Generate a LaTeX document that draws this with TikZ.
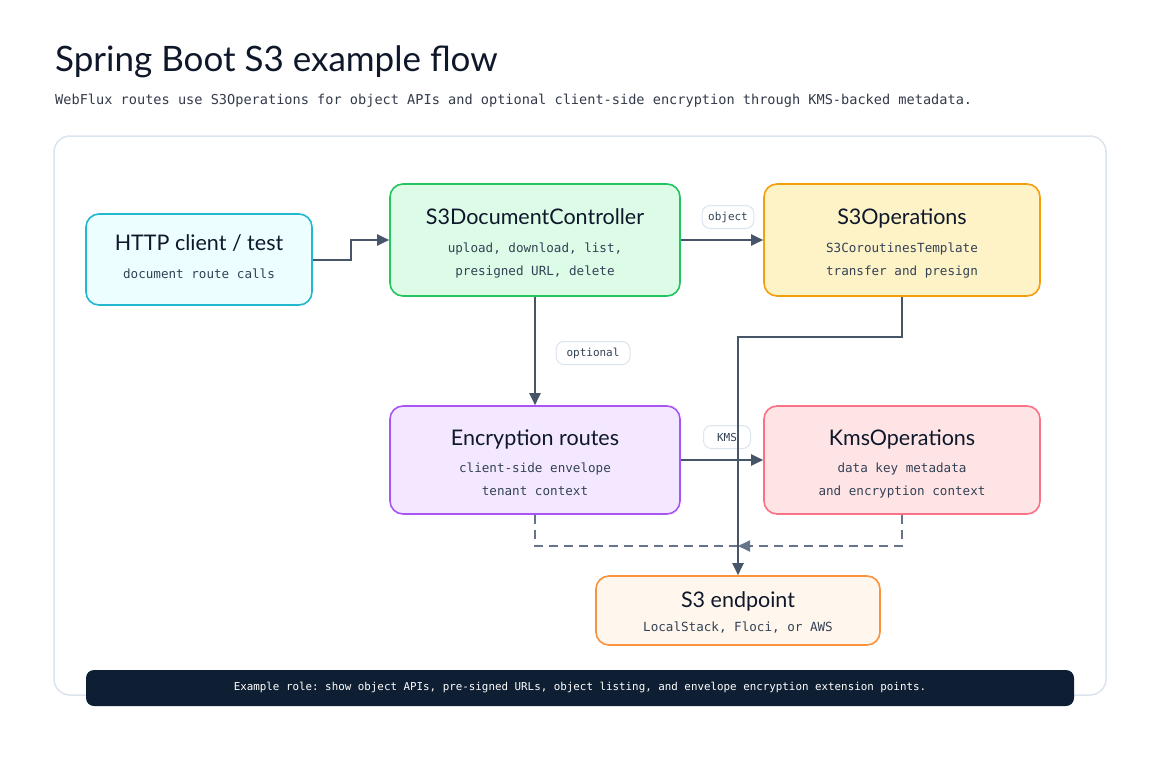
\documentclass[tikz,border=0pt]{standalone}
\usepackage{fontspec}
\setmainfont{Lato}
\setmonofont{DejaVu Sans Mono}
\usetikzlibrary{arrows.meta,calc}
\definecolor{ink}{HTML}{0F172A}
\definecolor{sub}{HTML}{334155}
\definecolor{edge}{HTML}{475569}
\definecolor{dash}{HTML}{64748B}
\definecolor{panel}{HTML}{DCE4EE}
\definecolor{navy}{HTML}{0F1F33}
\definecolor{cyanD}{HTML}{22B8CF}\definecolor{cyanF}{HTML}{ECFEFF}
\definecolor{greenD}{HTML}{22C55E}\definecolor{greenF}{HTML}{DCFCE7}
\definecolor{amberD}{HTML}{F59E0B}\definecolor{amberF}{HTML}{FEF3C7}
\definecolor{purpD}{HTML}{A855F7}\definecolor{purpF}{HTML}{F3E8FF}
\definecolor{roseD}{HTML}{FB7185}\definecolor{roseF}{HTML}{FFE4E6}
\definecolor{orD}{HTML}{FB923C}\definecolor{orF}{HTML}{FFF7ED}
\tikzset{
  box/.style={draw, rounded corners=13pt, line width=1.6pt, inner sep=0pt},
  ttl/.style={text=ink, font=\fontsize{21.5}{25}\selectfont, anchor=base, inner sep=0pt},
  mono/.style={text=sub, font=\ttfamily\fontsize{12.6}{15}\selectfont, anchor=base, inner sep=0pt},
  pill/.style={draw=panel, fill=white, rounded corners=8pt, line width=1pt, text=sub, font=\ttfamily\fontsize{11}{13}\selectfont, minimum height=23pt, inner xsep=6pt, inner ysep=0pt},
  conn/.style={draw=edge, line width=2pt, -{Triangle[length=12pt,width=11pt]}},
  dconn/.style={draw=dash, line width=1.8pt, dash pattern=on 9pt off 6pt},
}
\begin{document}
\begin{tikzpicture}[x=1pt,y=-1pt]
\useasboundingbox (0,0) rectangle (1160,760);
\fill[white] (0,0) rectangle (1160,760);
% title
\node[text=ink, font=\fontsize{35}{40}\selectfont, anchor=base west, inner sep=0] (title) at (55,72) {Spring Boot S3 example flow};
\node[text=ink!85!white, font=\ttfamily\fontsize{13.6}{17}\selectfont, anchor=base west, inner sep=0] (subtitle) at (55,104) {WebFlux routes use S3Operations for object APIs and optional client-side encryption through KMS-backed metadata.};
% panel
\draw[panel, line width=1.5pt, fill=white, rounded corners=16pt] (54,136) rectangle (1106,695);
% boxes
\node[box, draw=cyanD, fill=cyanF, minimum width=226pt, minimum height=91pt] (http) at (199,259.5) {};
\node[ttl] (httpT) at (199,250) {HTTP client / test};
\node[mono] (httpS) at (199,278) {document route calls};

\node[box, draw=greenD, fill=greenF, minimum width=290pt, minimum height=112pt] (ctrl) at (535,240) {};
\node[ttl] (ctrlT) at (535,224) {S3DocumentController};
\node[mono] (ctrlS1) at (535,252) {upload, download, list,};
\node[mono] (ctrlS2) at (535,275) {presigned URL, delete};

\node[box, draw=amberD, fill=amberF, minimum width=276pt, minimum height=112pt] (ops) at (902,240) {};
\node[ttl] (opsT) at (902,224) {S3Operations};
\node[mono] (opsS1) at (902,252) {S3CoroutinesTemplate};
\node[mono] (opsS2) at (902,275) {transfer and presign};

\node[box, draw=purpD, fill=purpF, minimum width=290pt, minimum height=108pt] (enc) at (535,460) {};
\node[ttl] (encT) at (535,445) {Encryption routes};
\node[mono] (encS1) at (535,472) {client-side envelope};
\node[mono] (encS2) at (535,495) {tenant context};

\node[box, draw=roseD, fill=roseF, minimum width=276pt, minimum height=108pt] (kms) at (902,460) {};
\node[ttl] (kmsT) at (902,445) {KmsOperations};
\node[mono] (kmsS1) at (902,472) {data key metadata};
\node[mono] (kmsS2) at (902,495) {and encryption context};

\node[box, draw=orD, fill=orF, minimum width=284pt, minimum height=69pt] (end) at (738,610.5) {};
\node[ttl] (endT) at (738,607) {S3 endpoint};
\node[mono] (endS) at (738,631) {LocalStack, Floci, or AWS};

% labels
\node[pill, minimum width=49pt] (lobj) at (728,217) {object};
\node[pill, minimum width=74pt] (lopt) at (593,353) {optional};
\node[pill, minimum width=47pt] (lkms) at (727,437) {KMS};

% connectors
\draw[conn] (http.east) -- ++(38,0) |- (ctrl.west);
\draw[conn] (ctrl.east) -- (ops.west);
\draw[conn] (ctrl.south) -- (enc.north);
\draw[conn] (enc.east) -- (kms.west);
\coordinate (join) at (738,546);
\draw[dconn] (enc.south) |- (join);
\draw[dconn, -{Triangle[length=12pt,width=11pt]}] (kms.south) |- (join);
\draw[conn] (ops.south) -- ++(0,40) -| (end.north);

% footer
\node[fill=navy, rounded corners=8pt, minimum width=988pt, minimum height=36pt, inner sep=0pt, text=white, font=\ttfamily\fontsize{10.85}{13}\selectfont] (foot) at (580,688) {Example role: show object APIs, pre-signed URLs, object listing, and envelope encryption extension points.};
\end{tikzpicture}
\end{document}
